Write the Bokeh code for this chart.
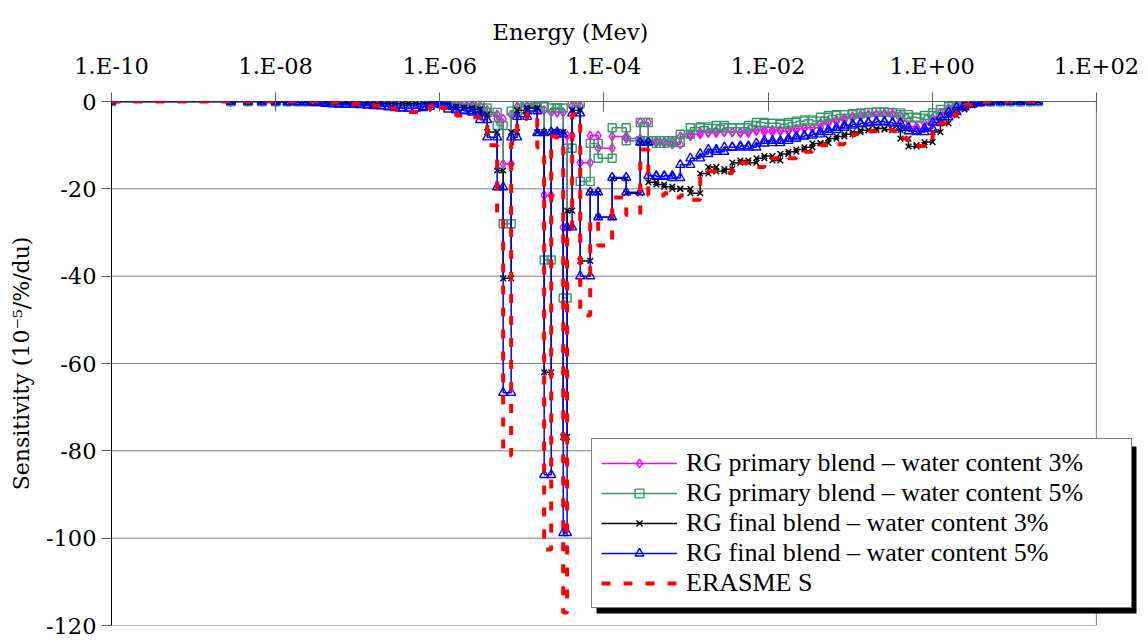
from bokeh.plotting import figure
from bokeh.models import (FixedTicker, CustomJSTickFormatter, Legend, LegendItem, Range1d,
                          BoxAnnotation)
from bokeh.embed import file_html
from bokeh.resources import INLINE

# serif faces: legend labels in Liberation Serif, axis texts and title in DejaVu Serif
LEGEND_FONT = "'Liberation Serif', 'Times New Roman', serif"
AXIS_FONT = "DejaVu Serif"

# Group boundaries of the energy mesh (MeV)
energy_bounds = [
    1e-10, 2.85e-9, 4.6e-9, 6.8e-9, 1.0e-8, 1.4e-8, 1.85e-8, 2.3e-8, 2.8e-8, 3.3e-8,
    4.0e-8, 4.85e-8, 5.9e-8, 7.2e-8, 8.8e-8, 1.07e-7, 1.3e-7, 1.58e-7, 1.92e-7, 2.35e-7,
    2.85e-7, 3.5e-7, 4.2e-7, 5.1e-7, 6.25e-7, 7.6e-7, 9.0e-7, 1.04e-6,
    1.26e-6, 1.58e-6, 1.98e-6, 2.48e-6, 3.1e-6, 3.78e-6, 5.0e-6, 5.92e-6, 7.41e-6, 8.77e-6,
    1.16e-5, 1.54e-5, 1.87e-5, 2.28e-5, 2.69e-5, 3.19e-5, 3.56e-5, 4.1e-5, 5.14e-5, 6.81e-5,
    8.51e-5, 1.26e-4,
    1.87e-4, 2.77e-4, 3.47e-4, 4.35e-4, 5.43e-4, 6.81e-4, 8.51e-4, 1.13e-3, 1.49e-3, 1.87e-3,
    2.34e-3, 2.93e-3, 3.67e-3, 4.59e-3, 5.75e-3, 7.2e-3, 9.01e-3, 1.13e-2, 1.41e-2, 1.77e-2,
    2.21e-2, 2.77e-2, 3.47e-2, 4.35e-2, 5.43e-2, 6.81e-2, 8.51e-2, 0.107, 0.134, 0.167,
    0.209, 0.262, 0.328, 0.41, 0.514, 0.644, 0.805, 1.01, 1.26, 1.58,
    1.98, 2.48, 3.1, 3.88, 5.1, 6.8, 9.0, 11.9, 15.8, 19.6,
]

# Sensitivity per group (1e-5 %/du)
primary_3 = [
    0, 0, 0, 0, 0, 0, 0, 0, 0,
    0, 0, -0.1, -0.1, -0.1, -0.1, -0.1, -0.2, -0.2, -0.2, -0.2, -0.3, -0.3, -0.3, -0.3, -0.2, -0.1, 0,
    -0.3, -0.5, -0.6, -0.7, -1.0, -2.0, -3.0, -4.0, -14.3, -3.0, -1.2, -1.0, -2.0, -21.5, -2.5, -2.5,
    -28.8, -7.8, -1.0, -14.0, -7.8, -10.7,
    -8, -8.5, -4.8, -9, -9.5, -9.2, -9.8, -8, -7.5, -7, -7.2, -6.8, -7, -7, -7.2, -6.8, -6.5, -7,
    -6.5, -6.8, -6.5, -6.2, -6, -6, -5, -4.6, -4.2, -3.8, -3.4, -3.1, -3, -2.9, -2.8, -3.2, -4.5,
    -5.8, -6.2, -5, -3.8, -2.6, -1.6, -0.8, -0.4, -0.2, -0.1, 0, 0, 0, 0, 0,
]
primary_5 = [
    0, 0, 0, 0, 0, 0, 0, 0, 0,
    0, 0, 0, 0, 0, 0, 0, 0, 0.1, 0.2, 0.2, 0.2, 0.1, 0.1, 0, 0, 0, 0.1,
    -0.2, -0.3, -0.4, -0.5, -0.8, -1.5, -2.5, -5.5, -28.0, -2.2, -0.6, -0.5, -1.2, -36.3, -1.5, -1.5,
    -45.0, -10.7, -0.4, -18.3, -9.6, -13.0,
    -6, -9, -4.8, -9, -9.6, -9, -9.4, -7.5, -6, -5.8, -6.2, -5.5, -6, -6, -6, -5.5, -4.8, -5,
    -5, -5.2, -4.8, -4.5, -4.2, -4.5, -3.6, -3.2, -3, -3, -2.8, -2.6, -2.5, -2.4, -2.5, -2.6, -3,
    -3.6, -3.8, -3.2, -2.6, -1.8, -1.2, -0.6, -0.3, -0.1, 0, 0, 0, 0, 0, 0,
]
final_3 = [
    0, 0, 0, 0, 0, 0, 0, 0, 0,
    -0.1, -0.1, -0.2, -0.2, -0.2, -0.2, -0.3, -0.3, -0.4, -0.4, -0.4, -0.5, -0.5, -0.5, -0.5, -0.4, -0.2, 0,
    -0.6, -1.2, -1.4, -1.5, -1.8, -3.0, -7.0, -15.8, -40.5, -7.0, -2.0, -1.5, -7.0, -62.0, -7.0, -7.0,
    -76.8, -25.0, -2.0, -36.5, -20.8, -26.5,
    -17.6, -21, -9.4, -18.5, -19, -19.5, -20, -20, -21, -16.5, -15, -16, -15.5, -14, -13.5, -14, -13, -12.5,
    -13.5, -12, -11.5, -11, -10.5, -9.6, -9.5, -8.5, -8, -7.5, -7, -6.6, -6.5, -6.2, -6.4, -6.5, -8.5,
    -10.3, -10, -9.3, -7, -5, -3.2, -1.8, -0.9, -0.4, -0.2, -0.1, 0, 0, 0, 0,
]
final_5 = [
    0, 0, 0, 0, -0.1, -0.1, -0.1, -0.1, -0.2,
    -0.3, -0.5, -0.6, -0.7, -0.7, -0.7, -0.8, -0.9, -1.0, -1.1, -1.3, -1.5, -1.6, -1.6, -1.5, -1.2, -0.6, -0.1,
    -0.8, -1.8, -2.0, -2.2, -2.5, -4.2, -8.2, -19.6, -66.7, -8.2, -3.5, -2.2, -7.2, -85.5, -7.0, -7.5,
    -98.8, -28.8, -2.7, -40.0, -20.8, -26.5,
    -17.4, -20.8, -9.4, -17, -17.2, -17, -17.5, -14.5, -13, -12, -11, -11.5, -10.5, -10.5, -10.2, -10.5, -9.6, -9,
    -9.5, -9, -8.5, -8, -7.8, -7.5, -7, -6.5, -6, -5.5, -5.2, -5, -4.8, -4.6, -4.8, -5, -6,
    -6.8, -7, -6.2, -4.8, -3.6, -2.4, -1.3, -0.7, -0.3, -0.1, -0.1, 0, 0, 0, 0,
]
erasme_s = [
    0, 0, 0, 0, 0, 0, 0, 0, 0,
    -0.1, -0.2, -0.3, -0.4, -0.5, -0.5, -0.6, -0.8, -1.0, -1.3, -1.6, -1.9, -2.2, -2.4, -2.4, -2.0, -1.0, -0.3,
    -1.5, -2.8, -3.2, -3.5, -3.6, -5.5, -10.0, -27.0, -81.0, -9.5, -4.0, -2.8, -10.5, -102.6, -8.0, -9.5,
    -117.0, -30.0, -3.0, -49.0, -27.0, -33.0,
    -22, -26, -11, -21.5, -21.5, -21, -22, -21.5, -22.5, -17, -16, -16.4, -16.4, -14.5, -14, -15, -15, -13.5,
    -13, -12.5, -13, -12.5, -11.5, -11, -10, -9.5, -9.8, -8, -7.5, -7, -6.8, -6.5, -6.5, -6.8, -8.5,
    -10, -10.2, -9.2, -7, -5, -3.2, -1.8, -0.8, -0.3, -0.1, 0, 0, 0, 0, 0,
]

labels = [
    "RG primary blend \u2013 water content 3%",
    "RG primary blend \u2013 water content 5%",
    "RG final blend \u2013 water content 3%",
    "RG final blend \u2013 water content 5%",
    "ERASME S",
]
x_ticks = [1e-10, 1e-8, 1e-6, 1e-4, 1e-2, 1e0, 1e2]
y_ticks = [-120, -100, -80, -60, -40, -20, 0]
x_lo, x_hi = x_ticks[0], x_ticks[-1]


def step_points(values):
    """Histogram-style points: each group value at its lower and upper bound."""
    assert len(values) == len(energy_bounds) - 1
    xs, ys = [], []
    for i, v in enumerate(values):
        xs += [energy_bounds[i], energy_bounds[i + 1]]
        ys += [v, v]
    return xs, ys


# the frame runs a little past 1e2 so the legend can overhang the plot area
p = figure(
    width=1148, height=640,
    x_axis_type="log", x_axis_location="above",
    x_range=Range1d(x_lo, 10 ** 2.55), y_range=Range1d(-120, 0),
    output_backend="svg", toolbar_location=None,
    min_border_left=111, min_border_right=7, min_border_top=101, min_border_bottom=15,
    background_fill_color="white", border_fill_color="white",
)
p.outline_line_color = None
p.xgrid.visible = False
p.ygrid.visible = False

# plot-area grid and border, limited to the 1e-10 .. 1e2 span
n = len(y_ticks)
p.segment(x0=[x_lo] * n, y0=y_ticks, x1=[x_hi] * n, y1=y_ticks,
          line_color="#808080", line_width=1)
p.segment(x0=[x_hi], y0=[y_ticks[0]], x1=[x_hi], y1=[y_ticks[-1]],
          line_color="#808080", line_width=1)

xa = p.xaxis[0]
xa.ticker = FixedTicker(ticks=x_ticks, minor_ticks=[])
xa.formatter = CustomJSTickFormatter(code="""
    const e = Math.round(Math.log10(tick));
    const a = Math.abs(e);
    return "1.E" + (e < 0 ? "-" : "+") + (a < 10 ? "0" + a : "" + a);
""")
xa.axis_line_color = None
xa.major_tick_out = 9
xa.major_tick_in = 10
xa.minor_tick_line_color = None
xa.major_label_standoff = 14

ya = p.yaxis[0]
ya.ticker = FixedTicker(ticks=y_ticks)
ya.formatter = CustomJSTickFormatter(code="return String(Math.round(tick));")
ya.axis_label = "Sensitivity (10\u207b\u2075/%/du)"
ya.axis_label_standoff = 9
ya.axis_line_color = "black"
ya.major_tick_out = 10
ya.major_tick_in = 0
ya.minor_tick_line_color = None
ya.major_label_standoff = 5

for ax in (xa, ya):
    ax.major_tick_line_color = "#606060"
    ax.major_label_text_font = AXIS_FONT
    ax.major_label_text_font_size = "22.5px"
    ax.major_label_text_color = "black"
    ax.axis_label_text_font = AXIS_FONT
    ax.axis_label_text_font_size = "22px"
    ax.axis_label_text_font_style = "normal"
    ax.axis_label_text_color = "black"

# top axis line at zero, from 1e-10 to 1e2
p.segment(x0=[x_lo], y0=[0], x1=[x_hi], y1=[0], line_color="black", line_width=1)

p.title.text = "Energy (Mev)"
p.title.align = "left"
p.title.offset = 381
p.title.text_font = AXIS_FONT
p.title.text_font_size = "22.5px"
p.title.text_font_style = "normal"
p.title.text_color = "black"

series = [
    (primary_3, "#FF00FF", "diamond", 9),
    (primary_5, "#339966", "square", 8),
    (final_3, "#000000", "x", 8),
    (final_5, "#0000FF", "triangle", 9),
]

items = []
for (vals, color, marker, size), label in zip(series, labels[:4]):
    xs, ys = step_points(vals)
    r_line = p.line(xs, ys, line_color=color, line_width=1.5)
    r_mark = p.scatter(xs, ys, marker=marker, size=size, line_color=color,
                       line_width=1.4, fill_alpha=0)
    items.append(LegendItem(label=label, renderers=[r_line, r_mark]))

xs, ys = step_points(erasme_s)
r_red = p.line(xs, ys, line_color="#FF0000", line_width=4, line_dash="9 13")
items.append(LegendItem(label=labels[4], renderers=[r_red]))

# drop shadow behind the legend box
p.add_layout(BoxAnnotation(left=596, right=1136, top=446, bottom=613,
                           left_units="canvas", right_units="canvas",
                           top_units="canvas", bottom_units="canvas",
                           fill_color="black", fill_alpha=1, line_color=None))

legend = Legend(items=items, location=(480, 17),
                background_fill_color="white", background_fill_alpha=1,
                border_line_color="black", border_line_width=1,
                label_text_color="black", label_text_font=LEGEND_FONT, label_text_font_size="26px",
                glyph_width=76, glyph_height=22, label_standoff=9, label_width=436,
                padding=9, spacing=0, margin=0, label_height=29)
p.add_layout(legend)

open("out.html", "w").write(file_html(p, INLINE))
